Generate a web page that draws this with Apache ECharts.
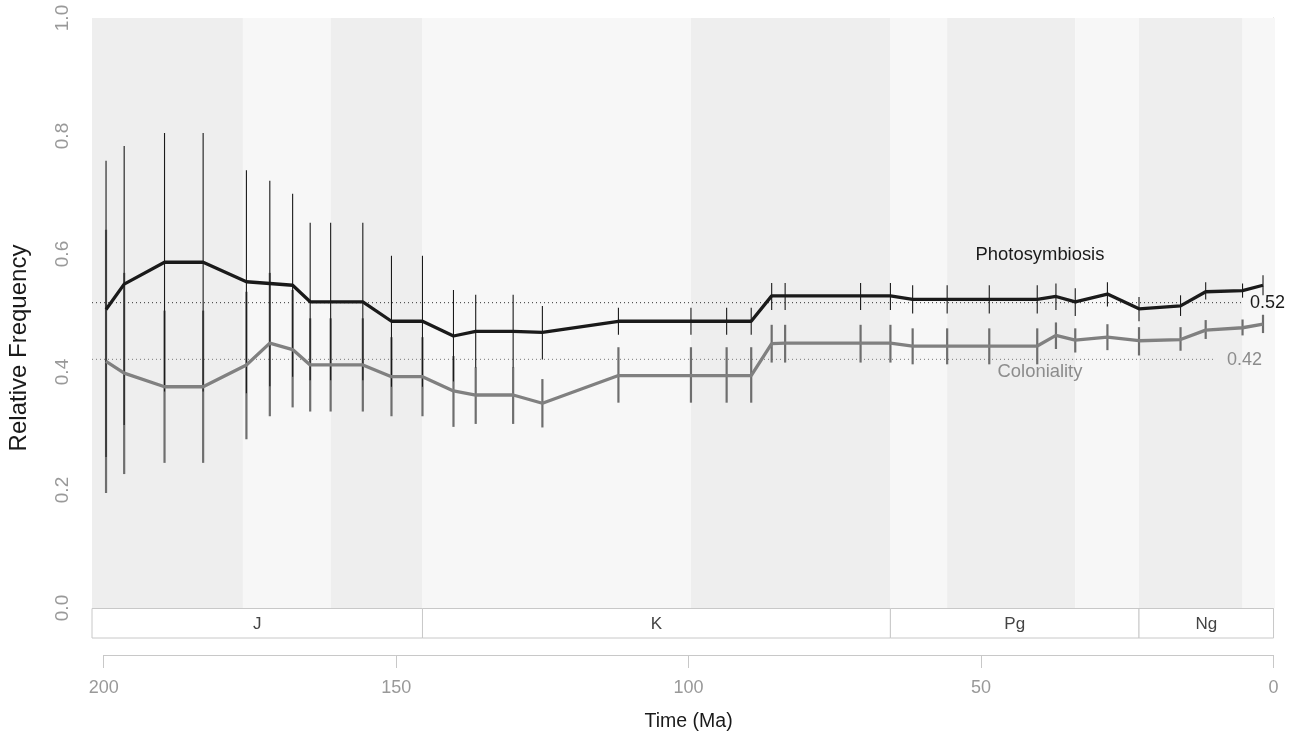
<!DOCTYPE html>
<html>
<head>
<meta charset="utf-8">
<script src="https://cdn.jsdelivr.net/npm/echarts@6/dist/echarts.min.js"></script>
<style>
html,body{margin:0;padding:0;background:#fff;}
#c{width:1295px;height:737px;}
</style>
</head>
<body>
<div id="c"></div>
<script>
// ---- data ----
const times = [199.6, 196.5, 189.6, 183.0, 175.6, 171.6, 167.7, 164.7, 161.2, 155.7, 150.8, 145.5, 140.2, 136.4, 130.0, 125.0, 112.0, 99.6, 93.5, 89.3, 85.8, 83.5, 70.6, 65.5, 61.7, 55.8, 48.6, 40.4, 37.2, 33.9, 28.4, 23.0, 15.9, 11.6, 5.3, 1.8];

const photoMean = [0.506, 0.549, 0.586, 0.586, 0.553, 0.550, 0.547, 0.519, 0.519, 0.519, 0.486, 0.486, 0.461, 0.469, 0.469, 0.467, 0.486, 0.486, 0.486, 0.486, 0.529, 0.529, 0.529, 0.529, 0.523, 0.523, 0.523, 0.523, 0.528, 0.519, 0.532, 0.507, 0.512, 0.536, 0.538, 0.547];
const photoLo = [0.256, 0.310, 0.367, 0.367, 0.364, 0.376, 0.392, 0.386, 0.386, 0.386, 0.375, 0.375, 0.384, 0.407, 0.407, 0.421, 0.463, 0.463, 0.463, 0.463, 0.505, 0.505, 0.505, 0.505, 0.499, 0.499, 0.499, 0.499, 0.505, 0.495, 0.511, 0.486, 0.495, 0.523, 0.526, 0.530];
const photoHi = [0.758, 0.783, 0.805, 0.805, 0.742, 0.724, 0.702, 0.653, 0.653, 0.653, 0.597, 0.597, 0.539, 0.531, 0.531, 0.512, 0.509, 0.509, 0.509, 0.509, 0.551, 0.551, 0.551, 0.551, 0.547, 0.547, 0.547, 0.547, 0.550, 0.542, 0.552, 0.527, 0.530, 0.552, 0.550, 0.564];

const colMean = [0.418, 0.398, 0.375, 0.375, 0.412, 0.449, 0.438, 0.412, 0.412, 0.412, 0.392, 0.392, 0.368, 0.361, 0.361, 0.347, 0.394, 0.394, 0.394, 0.394, 0.448, 0.449, 0.449, 0.449, 0.444, 0.444, 0.444, 0.444, 0.462, 0.454, 0.459, 0.453, 0.455, 0.471, 0.475, 0.481];
const colLo = [0.195, 0.227, 0.246, 0.246, 0.286, 0.325, 0.340, 0.333, 0.333, 0.333, 0.325, 0.325, 0.307, 0.312, 0.312, 0.306, 0.348, 0.348, 0.348, 0.348, 0.416, 0.416, 0.416, 0.416, 0.413, 0.413, 0.413, 0.413, 0.439, 0.433, 0.437, 0.428, 0.436, 0.456, 0.462, 0.466];
const colHi = [0.641, 0.568, 0.504, 0.504, 0.536, 0.568, 0.539, 0.491, 0.491, 0.491, 0.459, 0.459, 0.427, 0.408, 0.408, 0.388, 0.442, 0.442, 0.442, 0.442, 0.480, 0.480, 0.480, 0.480, 0.474, 0.474, 0.474, 0.474, 0.484, 0.474, 0.481, 0.476, 0.476, 0.488, 0.489, 0.497];

const photoRef = 0.5175;   // dotted reference, labelled 0.52
const colRef = 0.4215;     // dotted reference, labelled 0.42
const photoRefEnd = 5.2;   // where the dotted lines stop (Ma)
const colRefEnd = 10.3;

// epoch background bands (old -> young), alternating shade
const bandStarts = [202, 176.2, 161.2, 145.5, 99.6, 65.5, 55.8, 33.9, 23.0, 5.3];
const bandEnds   = [176.2, 161.2, 145.5, 99.6, 65.5, 55.8, 33.9, 23.0, 5.3, -0.25];
const bandShade  = [1, 0, 1, 0, 1, 0, 1, 0, 1, 0];

// periods
const periodNames  = ['J', 'K', 'Pg', 'Ng'];
const periodStarts = [202, 145.5, 65.5, 23.0];
const periodEnds   = [145.5, 65.5, 23.0, 0];

const X_MIN = -0.25, X_MAX = 202;

// ---- chart ----
const chart = echarts.init(document.getElementById('c'));
const FONT = 'Liberation Sans, Arial, Helvetica, sans-serif';

const zip = (a, b) => a.map((v, i) => [v, b[i]]);
const errData = (lo, hi) => times.map((t, i) => [t, lo[i], hi[i]]);

function errRender(color, width) {
  return function (params, api) {
    const p1 = api.coord([api.value(0), api.value(1)]);
    const p2 = api.coord([api.value(0), api.value(2)]);
    return {
      type: 'line',
      shape: { x1: p1[0], y1: p1[1], x2: p2[0], y2: p2[1] },
      style: { stroke: color, lineWidth: width }
    };
  };
}

const option = {
  animation: false,
  backgroundColor: '#ffffff',
  textStyle: { fontFamily: FONT },
  grid: [
    { left: 92, top: 18, width: 1183, height: 590 },
    { left: 92, top: 608.5, width: 1183, height: 29.5 },
    { left: 103.7, top: 600, width: 1169.8, height: 55 }
  ],
  xAxis: [
    { gridIndex: 0, type: 'value', min: X_MIN, max: X_MAX, inverse: true, show: false },
    { gridIndex: 1, type: 'value', min: X_MIN, max: X_MAX, inverse: true, show: false },
    {
      gridIndex: 2, type: 'value', min: 0, max: 200, inverse: true, interval: 50,
      position: 'bottom',
      axisLine: { show: true, lineStyle: { color: '#c8c8c8', width: 1 } },
      axisTick: { show: true, length: 13, lineStyle: { color: '#c8c8c8' } },
      axisLabel: { color: '#999999', fontSize: 18, margin: 24, fontFamily: FONT },
      splitLine: { show: false },
      name: 'Time (Ma)', nameLocation: 'middle', nameGap: 57,
      nameTextStyle: { color: '#1a1a1a', fontSize: 19.5, fontFamily: FONT }
    }
  ],
  yAxis: [
    {
      gridIndex: 0, type: 'value', min: 0, max: 1, interval: 0.2,
      offset: 4,
      axisLine: { show: true, lineStyle: { color: '#c8c8c8', width: 1 } },
      axisTick: { show: true, length: 8, lineStyle: { color: '#c8c8c8' } },
      axisLabel: { color: '#999999', fontSize: 19, rotate: 90, margin: 16, fontFamily: FONT,
        formatter: v => v.toFixed(1) },
      splitLine: { show: false }
    },
    { gridIndex: 1, type: 'value', min: 0, max: 1, show: false },
    { gridIndex: 2, type: 'value', min: 0, max: 1, show: false }
  ],
  series: [
    {
      type: 'custom', xAxisIndex: 0, yAxisIndex: 0, z: 1, silent: true,
      data: bandStarts.map((s, i) => [s, bandEnds[i], bandShade[i]]),
      renderItem: function (params, api) {
        const a = api.coord([api.value(0), 1]);
        const b = api.coord([api.value(1), 0]);
        return {
          type: 'rect',
          shape: { x: a[0], y: a[1], width: b[0] - a[0], height: b[1] - a[1] },
          style: { fill: api.value(2) ? '#eeeeee' : '#f7f7f7' }
        };
      }
    },
    {
      type: 'custom', xAxisIndex: 1, yAxisIndex: 1, z: 1, silent: true,
      data: periodStarts.map((s, i) => [s, periodEnds[i]]),
      renderItem: function (params, api) {
        const a = api.coord([api.value(0), 1]);
        const b = api.coord([api.value(1), 0]);
        const name = periodNames[params.dataIndex];
        return {
          type: 'group',
          children: [
            {
              type: 'rect',
              shape: { x: a[0], y: a[1], width: b[0] - a[0], height: b[1] - a[1] },
              style: { fill: '#ffffff', stroke: '#c8c8c8', lineWidth: 1 }
            },
            {
              type: 'text',
              style: { text: name, x: (a[0] + b[0]) / 2, y: (a[1] + b[1]) / 2 + 1,
                align: 'center', verticalAlign: 'middle', fill: '#444444',
                fontSize: 17, fontFamily: FONT }
            }
          ]
        };
      }
    },
    {
      type: 'line', xAxisIndex: 0, yAxisIndex: 0, z: 2, silent: true,
      data: [[X_MAX, photoRef], [photoRefEnd, photoRef]], symbol: 'none',
      lineStyle: { color: '#333333', width: 1, type: [1, 3] }
    },
    {
      type: 'line', xAxisIndex: 0, yAxisIndex: 0, z: 2, silent: true,
      data: [[X_MAX, colRef], [colRefEnd, colRef]], symbol: 'none',
      lineStyle: { color: '#777777', width: 1, type: [1, 3] }
    },
    {
      type: 'custom', xAxisIndex: 0, yAxisIndex: 0, z: 3, silent: true,
      data: errData(colLo, colHi), renderItem: errRender('#6e6e6e', 2.2)
    },
    {
      type: 'custom', xAxisIndex: 0, yAxisIndex: 0, z: 4, silent: true,
      data: errData(photoLo, photoHi), renderItem: errRender('#1a1a1a', 1.1)
    },
    {
      type: 'line', xAxisIndex: 0, yAxisIndex: 0, z: 5, silent: true,
      data: zip(times, colMean), symbol: 'none',
      lineStyle: { color: '#808080', width: 3.3 }
    },
    {
      type: 'line', xAxisIndex: 0, yAxisIndex: 0, z: 6, silent: true,
      data: zip(times, photoMean), symbol: 'none',
      lineStyle: { color: '#1a1a1a', width: 3.3 }
    }
  ],
  graphic: [
    { type: 'text', x: 1040, y: 255, z: 10,
      style: { text: 'Photosymbiosis', fill: '#1a1a1a', fontSize: 18.4, fontFamily: FONT,
        align: 'center', verticalAlign: 'middle' } },
    { type: 'text', x: 1040, y: 372, z: 10,
      style: { text: 'Coloniality', fill: '#8c8c8c', fontSize: 18.4, fontFamily: FONT,
        align: 'center', verticalAlign: 'middle' } },
    { type: 'text', x: 1250, y: 303, z: 10,
      style: { text: '0.52', fill: '#1a1a1a', fontSize: 18, fontFamily: FONT,
        align: 'left', verticalAlign: 'middle' } },
    { type: 'text', x: 1227, y: 360, z: 10,
      style: { text: '0.42', fill: '#8c8c8c', fontSize: 18, fontFamily: FONT,
        align: 'left', verticalAlign: 'middle' } },
    { type: 'text', x: 19, y: 348, rotation: Math.PI / 2, z: 10,
      style: { text: 'Relative Frequency', fill: '#1a1a1a', fontSize: 24, fontFamily: FONT,
        align: 'center', verticalAlign: 'middle' } }
  ]
};
chart.setOption(option);
</script>
</body>
</html>
